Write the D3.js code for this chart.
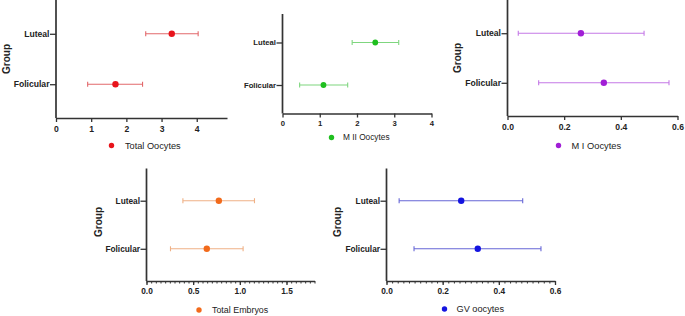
<!DOCTYPE html>
<html lang="en">
<head>
<meta charset="UTF-8">
<title>Oocytes by phase</title>
<style>
  html, body { margin: 0; padding: 0; background: #fff; }
  svg { display: block; font-family: "Liberation Sans", Arial, sans-serif; }
</style>
</head>
<body>
<script src="https://cdn.jsdelivr.net/npm/d3@7"></script>
<script>
// groups on the y axis, top to bottom
const groups = ["Luteal", "Folicular"];

// mean and error-bar ends, one entry per group [Luteal, Folicular]
const totalOocytesMean = [3.29, 1.69];
const totalOocytesLow  = [2.55, 0.90];
const totalOocytesHigh = [4.04, 2.46];

const m2OocytesMean = [2.49, 1.10];
const m2OocytesLow  = [1.87, 0.46];
const m2OocytesHigh = [3.12, 1.75];

const m1OocytesMean = [0.259, 0.340];
const m1OocytesLow  = [0.038, 0.110];
const m1OocytesHigh = [0.482, 0.570];

const totalEmbryosMean = [0.775, 0.646];
const totalEmbryosLow  = [0.39, 0.257];
const totalEmbryosHigh = [1.157, 1.035];

const gvOocytesMean = [0.266, 0.325];
const gvOocytesLow  = [0.045, 0.098];
const gvOocytesHigh = [0.485, 0.550];

// axis ticks
const ticksCount = [0, 1, 2, 3, 4];
const ticksFrac6 = [0, 0.2, 0.4, 0.6];
const ticksEmbryo = [0, 0.5, 1.0, 1.5];

const W = 685, H = 316;
const svg = d3.select("body").append("svg").attr("width", W).attr("height", H);

function rows(mean, lo, hi) {
  return groups.map((g, i) => ({group: g, mean: mean[i], lo: lo[i], hi: hi[i]}));
}

function panel(o) {
  const x = d3.scaleLinear().domain(o.domain).range([o.left, o.right]);
  const y = d3.scalePoint().domain(groups).range([o.top, o.bottom]).padding(0.67);
  const g = svg.append("g");
  const data = rows(o.mean, o.lo, o.hi);

  // x axis
  const xa = g.append("g").attr("transform", `translate(0,${o.bottom})`)
    .call(d3.axisBottom(x).tickValues(o.ticks).tickFormat(o.fmt).tickSize(4).tickSizeOuter(0));
  if (o.minor) {
    g.append("g").attr("transform", `translate(0,${o.bottom})`)
      .call(d3.axisBottom(x).tickValues(d3.range(0, o.domain[1] + 1e-9, o.minor)).tickFormat("").tickSize(2.5).tickSizeOuter(0))
      .call(s => s.select(".domain").remove())
      .selectAll("line").attr("stroke", "#333").attr("stroke-width", 1);
  }
  xa.select(".domain").attr("stroke", "#333").attr("stroke-width", 1.7);
  xa.selectAll(".tick line").attr("stroke", "#333").attr("stroke-width", 1.3);
  xa.selectAll("text").attr("fill", "#222").attr("font-weight", "bold")
    .attr("font-size", o.fs).attr("dy", "0.9em").attr("y", 6);

  // y axis
  const ya = g.append("g").attr("transform", `translate(${o.left},0)`)
    .call(d3.axisLeft(y).tickSize(6).tickSizeOuter(0));
  ya.select(".domain").attr("stroke", "#333").attr("stroke-width", 1.7)
    .attr("d", `M0,${o.top}V${o.bottom}`);
  ya.selectAll(".tick line").attr("stroke", "#333").attr("stroke-width", 1.3);
  ya.selectAll("text").attr("fill", "#222").attr("font-weight", "bold")
    .attr("font-size", o.fs).attr("x", -6.5);

  if (o.groupLabel) {
    g.append("text")
      .attr("transform", `translate(${o.groupLabel[0]},${o.groupLabel[1]}) rotate(-90)`)
      .attr("text-anchor", "middle").attr("dy", "0.35em")
      .attr("font-weight", "bold").attr("font-size", o.glfs || 10).attr("fill", "#222")
      .text("Group");
  }

  // error bars
  const eb = g.selectAll(".eb").data(data).join("g").attr("class", "eb")
    .attr("stroke", o.barColor).attr("stroke-width", 1.1);
  eb.append("line").attr("x1", d => x(d.lo)).attr("x2", d => x(d.hi))
    .attr("y1", d => y(d.group)).attr("y2", d => y(d.group));
  eb.append("line").attr("x1", d => x(d.lo)).attr("x2", d => x(d.lo))
    .attr("y1", d => y(d.group) - 2.5).attr("y2", d => y(d.group) + 2.5);
  eb.append("line").attr("x1", d => x(d.hi)).attr("x2", d => x(d.hi))
    .attr("y1", d => y(d.group) - 2.5).attr("y2", d => y(d.group) + 2.5);

  g.selectAll("circle.pt").data(data).join("circle").attr("class", "pt")
    .attr("cx", d => x(d.mean)).attr("cy", d => y(d.group))
    .attr("r", o.r).attr("fill", o.color);

  // legend
  g.append("circle").attr("cx", o.legend[0]).attr("cy", o.legend[1]).attr("r", 2.7).attr("fill", o.color);
  g.append("text").attr("x", o.legend[2]).attr("y", o.legend[1]).attr("dy", "0.35em")
    .attr("font-size", o.lfs).attr("fill", "#222").text(o.name);
}

panel({name: "Total Oocytes", mean: totalOocytesMean, lo: totalOocytesLow, hi: totalOocytesHigh,
  domain: [0, 4.86], ticks: ticksCount, fmt: d3.format("d"),
  left: 56, right: 227, top: 0, bottom: 118, fs: 8.6, lfs: 9.2, r: 3.2,
  color: "#e8141b", barColor: "#e2686b", groupLabel: [6, 59], legend: [111.5, 145.5, 125]});

panel({name: "M II Oocytes", mean: m2OocytesMean, lo: m2OocytesLow, hi: m2OocytesHigh,
  domain: [0, 4], ticks: ticksCount, fmt: d3.format("d"),
  left: 282.5, right: 431.5, top: 14, bottom: 113.5, fs: 7.7, lfs: 8.3, r: 2.9,
  color: "#1fbf1f", barColor: "#7fd67f", groupLabel: null, legend: [331.5, 137.5, 343]});

panel({name: "M I Oocytes", mean: m1OocytesMean, lo: m1OocytesLow, hi: m1OocytesHigh,
  domain: [0, 0.6], ticks: ticksFrac6, fmt: d3.format(".1f"),
  left: 507.5, right: 677.5, top: 0, bottom: 116, fs: 8.6, lfs: 9.3, r: 3.2,
  color: "#a11fd6", barColor: "#c479e6", groupLabel: [457, 58], legend: [558.5, 145.5, 571.5]});

panel({name: "Total Embryos", mean: totalEmbryosMean, lo: totalEmbryosLow, hi: totalEmbryosHigh,
  domain: [0, 1.8], ticks: ticksEmbryo, fmt: d3.format(".1f"), minor: 0.05,
  left: 146.5, right: 314.5, top: 168.5, bottom: 281, fs: 8.3, lfs: 8.9, r: 3.2,
  color: "#f26a1b", barColor: "#efb186", groupLabel: [98, 222], legend: [199, 310, 212]});

panel({name: "GV oocytes", mean: gvOocytesMean, lo: gvOocytesLow, hi: gvOocytesHigh,
  domain: [0, 0.6], ticks: ticksFrac6, fmt: d3.format(".1f"), minor: 0.02,
  left: 386.5, right: 555, top: 168.5, bottom: 281, fs: 8.3, lfs: 9.2, r: 3.2,
  color: "#1414e0", barColor: "#6666d6", groupLabel: [337, 222], legend: [444.5, 309, 456.5]});
</script>
</body>
</html>
